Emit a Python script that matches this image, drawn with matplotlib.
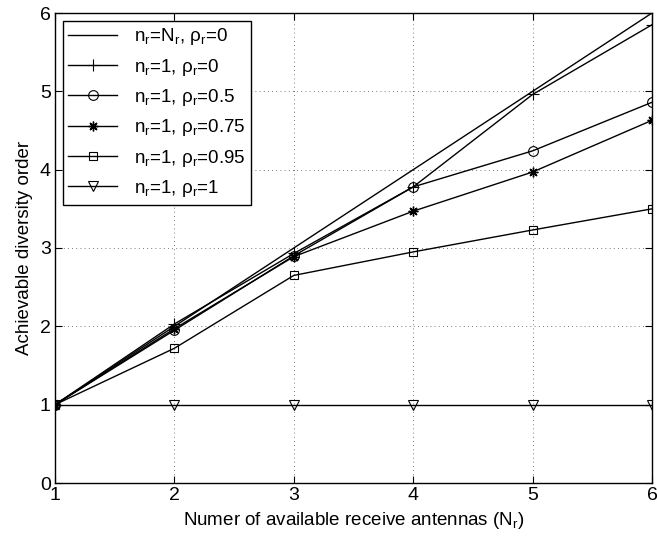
import matplotlib
matplotlib.use("Agg")
import matplotlib.pyplot as plt

plt.rcParams['font.family'] = ['Liberation Sans', 'DejaVu Sans']
plt.rcParams['mathtext.default'] = 'regular'

x = [1, 2, 3, 4, 5, 6]
full = [1, 2, 3, 4, 5, 6]
rho0 = [1, 2.03, 2.93, 3.78, 4.96, 5.85]
rho05 = [1, 1.95, 2.90, 3.78, 4.24, 4.86]
rho075 = [1, 1.97, 2.89, 3.47, 3.97, 4.63]
rho095 = [1, 1.72, 2.65, 2.95, 3.23, 3.50]
rho1 = [1, 1, 1, 1, 1, 1]

labels = [
    'n$_r$=N$_r$, ρ$_r$=0',
    'n$_r$=1, ρ$_r$=0',
    'n$_r$=1, ρ$_r$=0.5',
    'n$_r$=1, ρ$_r$=0.75',
    'n$_r$=1, ρ$_r$=0.95',
    'n$_r$=1, ρ$_r$=1',
]

fig = plt.figure(figsize=(6.57, 5.41), dpi=100)
ax = fig.add_axes([55/657, 58/541, 597/657, 470/541])

kw = dict(color='black', lw=1.0, mfc='none', mec='black', ms=7, mew=0.8)
ax.plot(x, full, '-', color='black', lw=1.0, label=labels[0])
ax.plot(x, rho0, '-', marker='+', label=labels[1], **{**kw, 'ms': 8})
ax.plot(x, rho05, '-o', label=labels[2], **kw)
ax.plot(x, rho075, '-', marker=(8, 2, 0), label=labels[3], **{**kw, 'ms': 7, 'mew': 1.0})
ax.plot(x, rho095, '-s', label=labels[4], **{**kw, 'ms': 6})
ax.plot(x, rho1, '-v', label=labels[5], **kw)

ax.set_xlim(1, 6)
ax.set_ylim(0, 6)
ax.set_xticks(x)
ax.set_yticks([0, 1, 2, 3, 4, 5, 6])
ax.tick_params(direction='in', top=True, right=True, length=5, labelsize=14, pad=3)
ax.grid(True, linestyle=(0, (1, 4)), color='black', lw=0.6, alpha=0.7)
for s in ax.spines.values():
    s.set_linewidth(1.0)

ax.set_xlabel('Numer of available receive antennas (N$_r$)', fontsize=13.5, labelpad=4)
ax.set_ylabel('Achievable diversity order', fontsize=13.5, labelpad=5)

leg = ax.legend(loc='upper left', fontsize=13.5, frameon=True, fancybox=False,
                edgecolor='black', framealpha=1, borderaxespad=0.4,
                handlelength=2.6, handletextpad=0.9, labelspacing=0.5, borderpad=0.3)
leg.get_frame().set_linewidth(1.0)

fig.savefig('out.png', dpi=100)
